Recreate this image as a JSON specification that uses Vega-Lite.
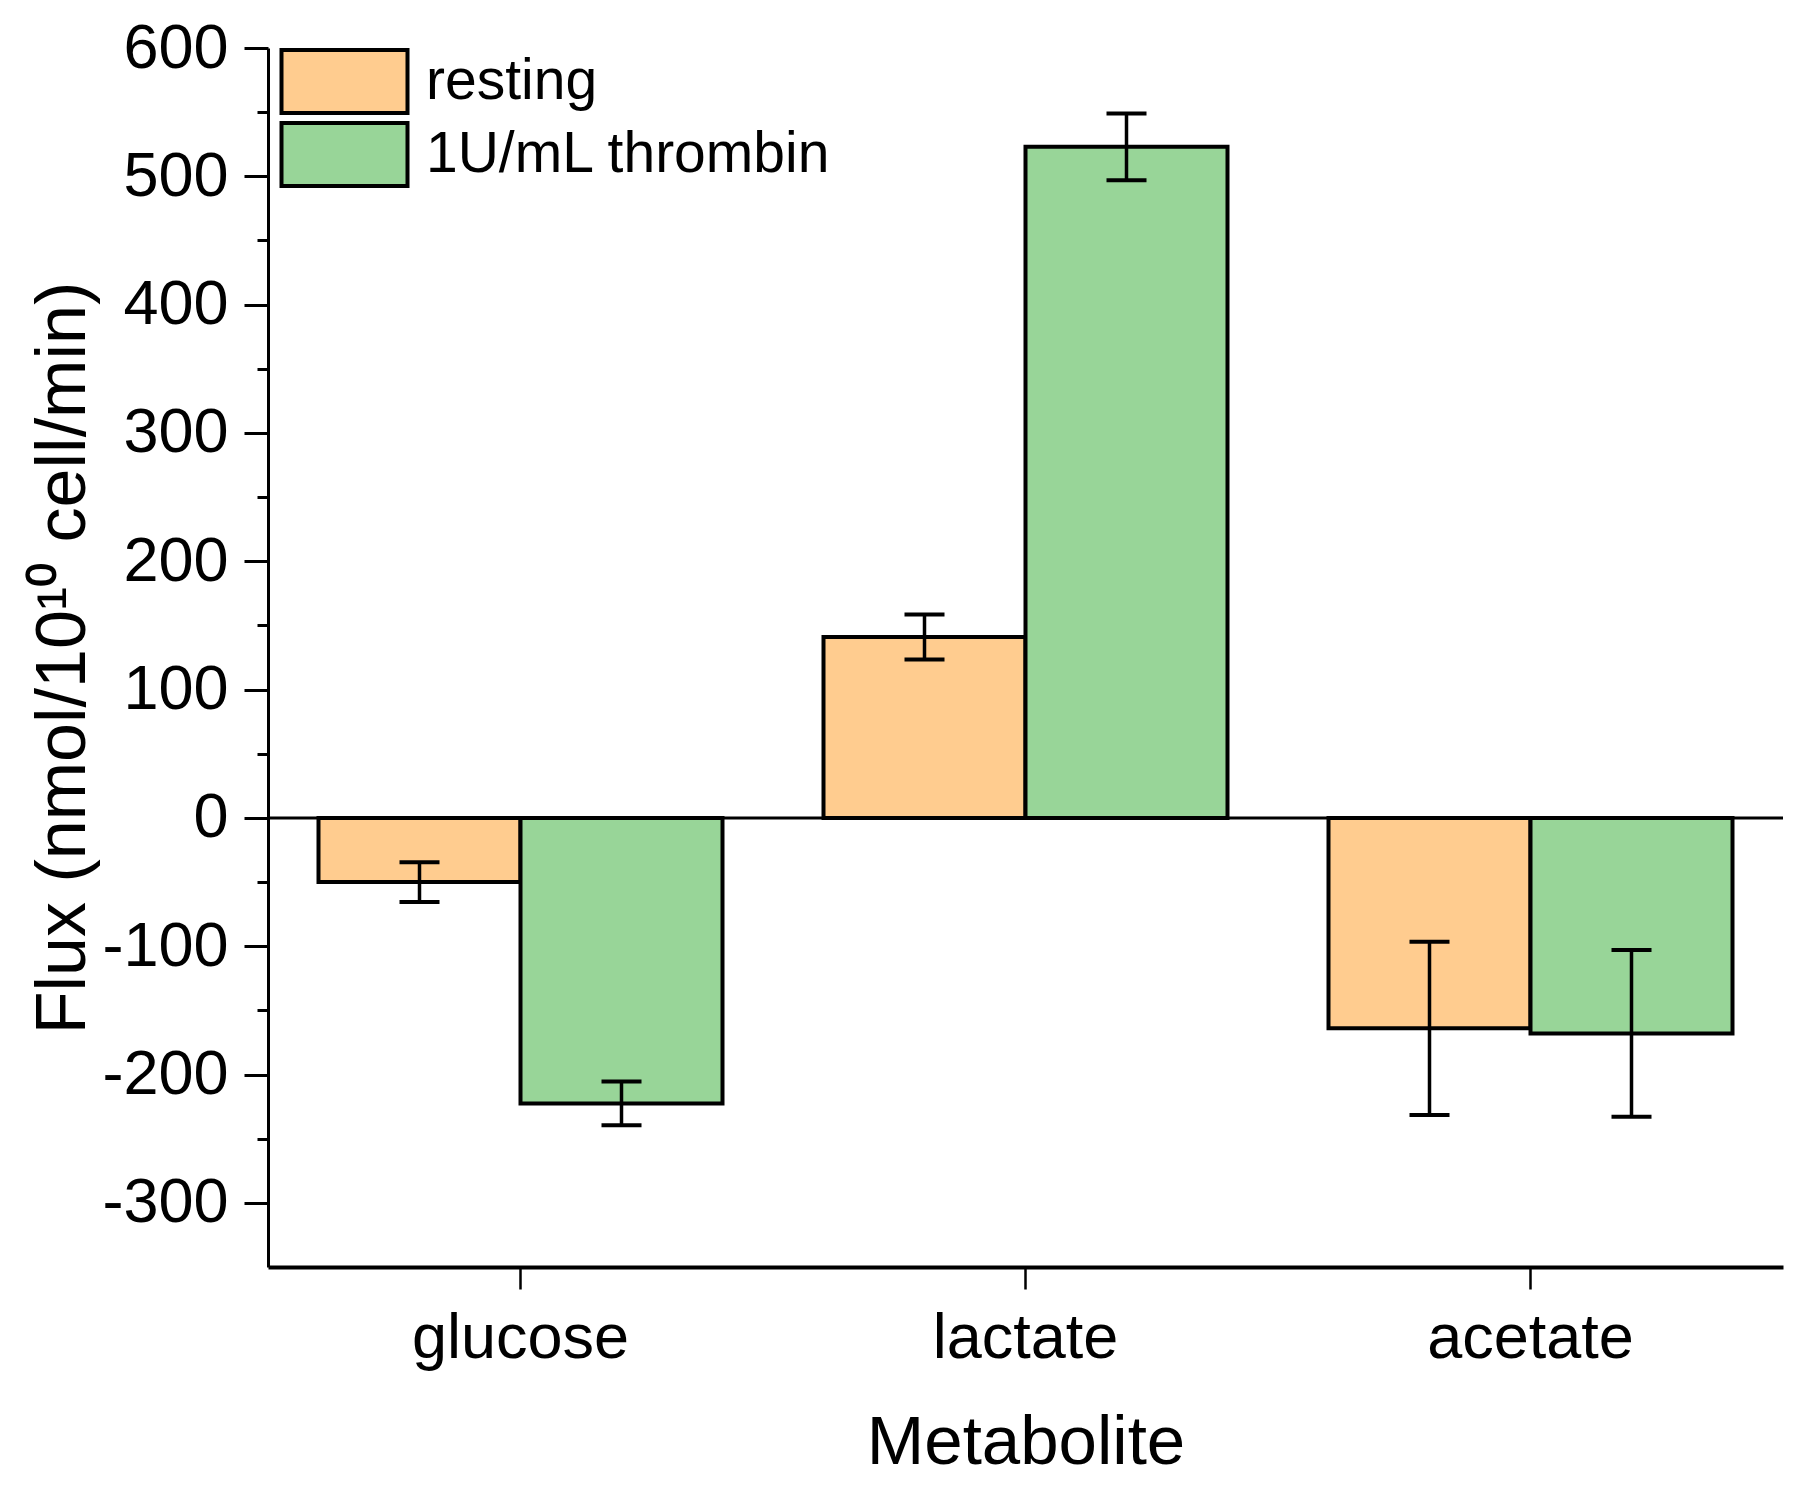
{
  "$schema": "https://vega.github.io/schema/vega-lite/v6.json",
  "width": 1515,
  "height": 1219,
  "autosize": {"type": "none"},
  "padding": {"left": 268, "top": 48, "right": 17, "bottom": 218},
  "background": "white",
  "config": {
    "view": {"stroke": null},
    "font": "Liberation Sans",
    "axis": {
      "grid": false,
      "domainColor": "black",
      "tickColor": "black",
      "labelColor": "black",
      "titleColor": "black",
      "titleFontWeight": "normal",
      "labelFont": "Liberation Sans",
      "titleFont": "Liberation Sans",
      "labelLimit": 0
    }
  },
  "data": {
    "values": [
      {"metabolite": "glucose", "condition": "resting", "flux": -50, "lo": -65.5, "hi": -34.5},
      {"metabolite": "glucose", "condition": "1U/mL thrombin", "flux": -222.5, "lo": -239.5, "hi": -205.5},
      {"metabolite": "lactate", "condition": "resting", "flux": 141, "lo": 123.5, "hi": 158.5},
      {"metabolite": "lactate", "condition": "1U/mL thrombin", "flux": 523, "lo": 497, "hi": 549},
      {"metabolite": "acetate", "condition": "resting", "flux": -164, "lo": -231.5, "hi": -96.5},
      {"metabolite": "acetate", "condition": "1U/mL thrombin", "flux": -168, "lo": -233, "hi": -103}
    ]
  },
  "layer": [
    {
      "encoding": {
        "x": {
          "field": "metabolite",
          "type": "nominal",
          "sort": ["glucose", "lactate", "acetate"],
          "scale": {"paddingInner": 0.2, "paddingOuter": 0.1},
          "title": "Metabolite",
          "axis": {
            "labelAngle": 0,
            "tickSize": 22,
            "tickWidth": 2.5,
            "domainWidth": 4,
            "labelFontSize": 63,
            "labelPadding": 18,
            "labelLimit": 0,
            "titleFontSize": 69,
            "titlePadding": 38
          }
        },
        "xOffset": {
          "field": "condition",
          "type": "nominal",
          "sort": ["resting", "1U/mL thrombin"],
          "scale": {"paddingInner": 0, "paddingOuter": 0}
        }
      },
      "layer": [
        {
          "mark": {"type": "bar", "stroke": "black", "strokeWidth": 4, "opacity": 1},
          "encoding": {
            "y": {
              "field": "flux",
              "type": "quantitative",
              "title": "Flux (nmol/10¹⁰ cell/min)",
              "scale": {"domain": [-350, 600], "nice": false, "zero": false},
              "axis": {
                "values": [-300, -200, -100, 0, 100, 200, 300, 400, 500, 600],
                "labelExpr": "'' + datum.value",
                "tickSize": 24,
                "tickWidth": 3,
                "domainWidth": 3,
                "labelFontSize": 63,
                "labelPadding": 16,
                "titleFontSize": 70,
                "titlePadding": 2
              }
            },
            "color": {
              "field": "condition",
              "type": "nominal",
              "sort": ["resting", "1U/mL thrombin"],
              "scale": {"domain": ["resting", "1U/mL thrombin"], "range": ["#FFCC8F", "#98D598"]},
              "legend": {
                "orient": "none",
                "legendX": 43,
                "legendY": 0,
                "title": null,
                "padding": 0,
                "symbolType": "M-2,-1H2V1H-2Z",
                "symbolSize": 3969,
                "symbolStrokeColor": "black",
                "symbolStrokeWidth": 4,
                "symbolOpacity": 1,
                "labelFontSize": 57,
                "labelFont": "Liberation Sans",
                "labelColor": "black",
                "labelLimit": 0,
                "labelOffset": 48,
                "rowPadding": -9
              }
            }
          }
        },
        {
          "mark": {"type": "rule", "color": "black", "strokeWidth": 3.5},
          "encoding": {
            "y": {"field": "lo", "type": "quantitative", "title": "Flux (nmol/10¹⁰ cell/min)"},
            "y2": {"field": "hi"}
          }
        },
        {
          "mark": {"type": "tick", "color": "black", "size": 40, "thickness": 4, "opacity": 1},
          "encoding": {
            "y": {"field": "lo", "type": "quantitative", "title": "Flux (nmol/10¹⁰ cell/min)"}
          }
        },
        {
          "mark": {"type": "tick", "color": "black", "size": 40, "thickness": 4, "opacity": 1},
          "encoding": {
            "y": {"field": "hi", "type": "quantitative", "title": "Flux (nmol/10¹⁰ cell/min)"}
          }
        }
      ]
    },
    {
      "data": {"values": [{"v": 0}]},
      "mark": {"type": "rule", "color": "black", "strokeWidth": 3},
      "encoding": {
        "y": {
          "field": "v",
          "type": "quantitative",
          "scale": {"domain": [-350, 600], "nice": false, "zero": false},
          "axis": {
            "orient": "left",
            "values": [-250, -150, -50, 50, 150, 250, 350, 450, 550],
            "labels": false,
            "domain": false,
            "tickSize": 11,
            "tickWidth": 3,
            "title": null,
            "grid": false
          }
        }
      }
    }
  ],
  "resolve": {"scale": {"y": "independent"}}
}
